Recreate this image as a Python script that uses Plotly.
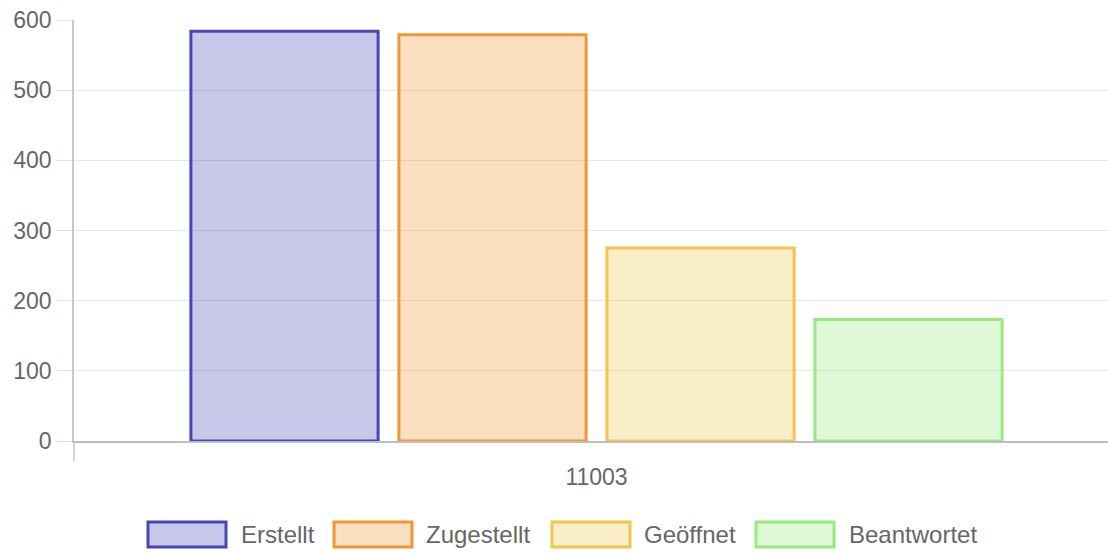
import plotly.graph_objects as go

categories = ["11003"]
series_names = ["Erstellt", "Zugestellt", "Geöffnet", "Beantwortet"]
series_values = [[584], [579], [275], [173]]
y_ticks = [0, 100, 200, 300, 400, 500, 600]

border_colors = ["rgb(70,70,185)", "rgb(240,150,50)", "rgb(240,198,75)", "rgb(150,235,125)"]
fill_colors = ["rgba(70,70,185,0.3)", "rgba(240,150,50,0.3)", "rgba(240,198,75,0.3)", "rgba(150,235,125,0.3)"]

FONT = "Liberation Sans, Arial, Helvetica, sans-serif"
FS = 23
LFS = 24
W, H = 1108, 553
ML, MR, MT, MB = 74, 0, 20, 112
PW = W - ML - MR
PH = H - MT - MB

fig = go.Figure()
for name, vals, bc, fc in zip(series_names, series_values, border_colors, fill_colors):
    fig.add_trace(go.Bar(
        x=categories, y=vals, name=name,
        marker=dict(color=fc, line=dict(color=bc, width=3)),
        showlegend=False, hoverinfo="x+y+name",
    ))

# custom legend (wide boxes like the original)
legend_box_left = [147, 333, 551, 755]
legend_text_left = [239, 424, 642, 847]
legend_cy = 534.5
ypap = (MT + PH - legend_cy) / PH
shapes = []
annotations = []
for i, name in enumerate(series_names):
    cx = (legend_box_left[i] + 40 - ML) / PW
    shapes.append(dict(
        type="rect", xref="paper", yref="paper",
        xsizemode="pixel", ysizemode="pixel",
        xanchor=cx, yanchor=ypap,
        x0=-39, x1=39, y0=-12.5, y1=12.5,
        line=dict(color=border_colors[i], width=3),
        fillcolor=fill_colors[i], layer="above",
    ))
    annotations.append(dict(
        xref="paper", yref="paper", x=(legend_text_left[i] - ML) / PW, y=ypap,
        xanchor="left", yanchor="middle", showarrow=False,
        text=name, font=dict(family=FONT, size=LFS, color="#666666"),
    ))

# small tick below the y axis at the left category boundary
shapes.append(dict(
    type="line", xref="paper", yref="paper", x0=0, x1=0,
    ysizemode="pixel", yanchor=0, y0=0, y1=-20,
    line=dict(color="#c8c8c8", width=1.5),
))

fig.update_layout(
    width=W, height=H,
    margin=dict(l=ML, r=MR, t=MT, b=MB, pad=0),
    paper_bgcolor="white", plot_bgcolor="white",
    barmode="group", bargap=0.2, bargroupgap=0.1,
    font=dict(family=FONT, size=FS, color="#666666"),
    shapes=shapes, annotations=annotations,
    showlegend=False,
    xaxis=dict(
        type="category", range=[-0.5024, 0.4918],
        showgrid=False, showline=True, linecolor="#bdbdbd", linewidth=1.5,
        ticks="outside", ticklen=15, tickcolor="rgba(0,0,0,0)",
        tickfont=dict(family=FONT, size=FS, color="#666666"),
        zeroline=False,
    ),
    yaxis=dict(
        range=[0, 600], tickvals=y_ticks,
        showgrid=True, gridcolor="#e6e6e6", gridwidth=1,
        showline=True, linecolor="#c8c8c8", linewidth=1.5,
        ticks="outside", ticklen=16, tickcolor="#e0e0e0",
        tickfont=dict(family=FONT, size=FS, color="#666666"),
        zeroline=False,
    ),
)

fig.write_html(
    "out.html",
    config={"displayModeBar": False},
    post_script="document.body.style.margin='0';document.body.style.overflow='hidden';",
)
